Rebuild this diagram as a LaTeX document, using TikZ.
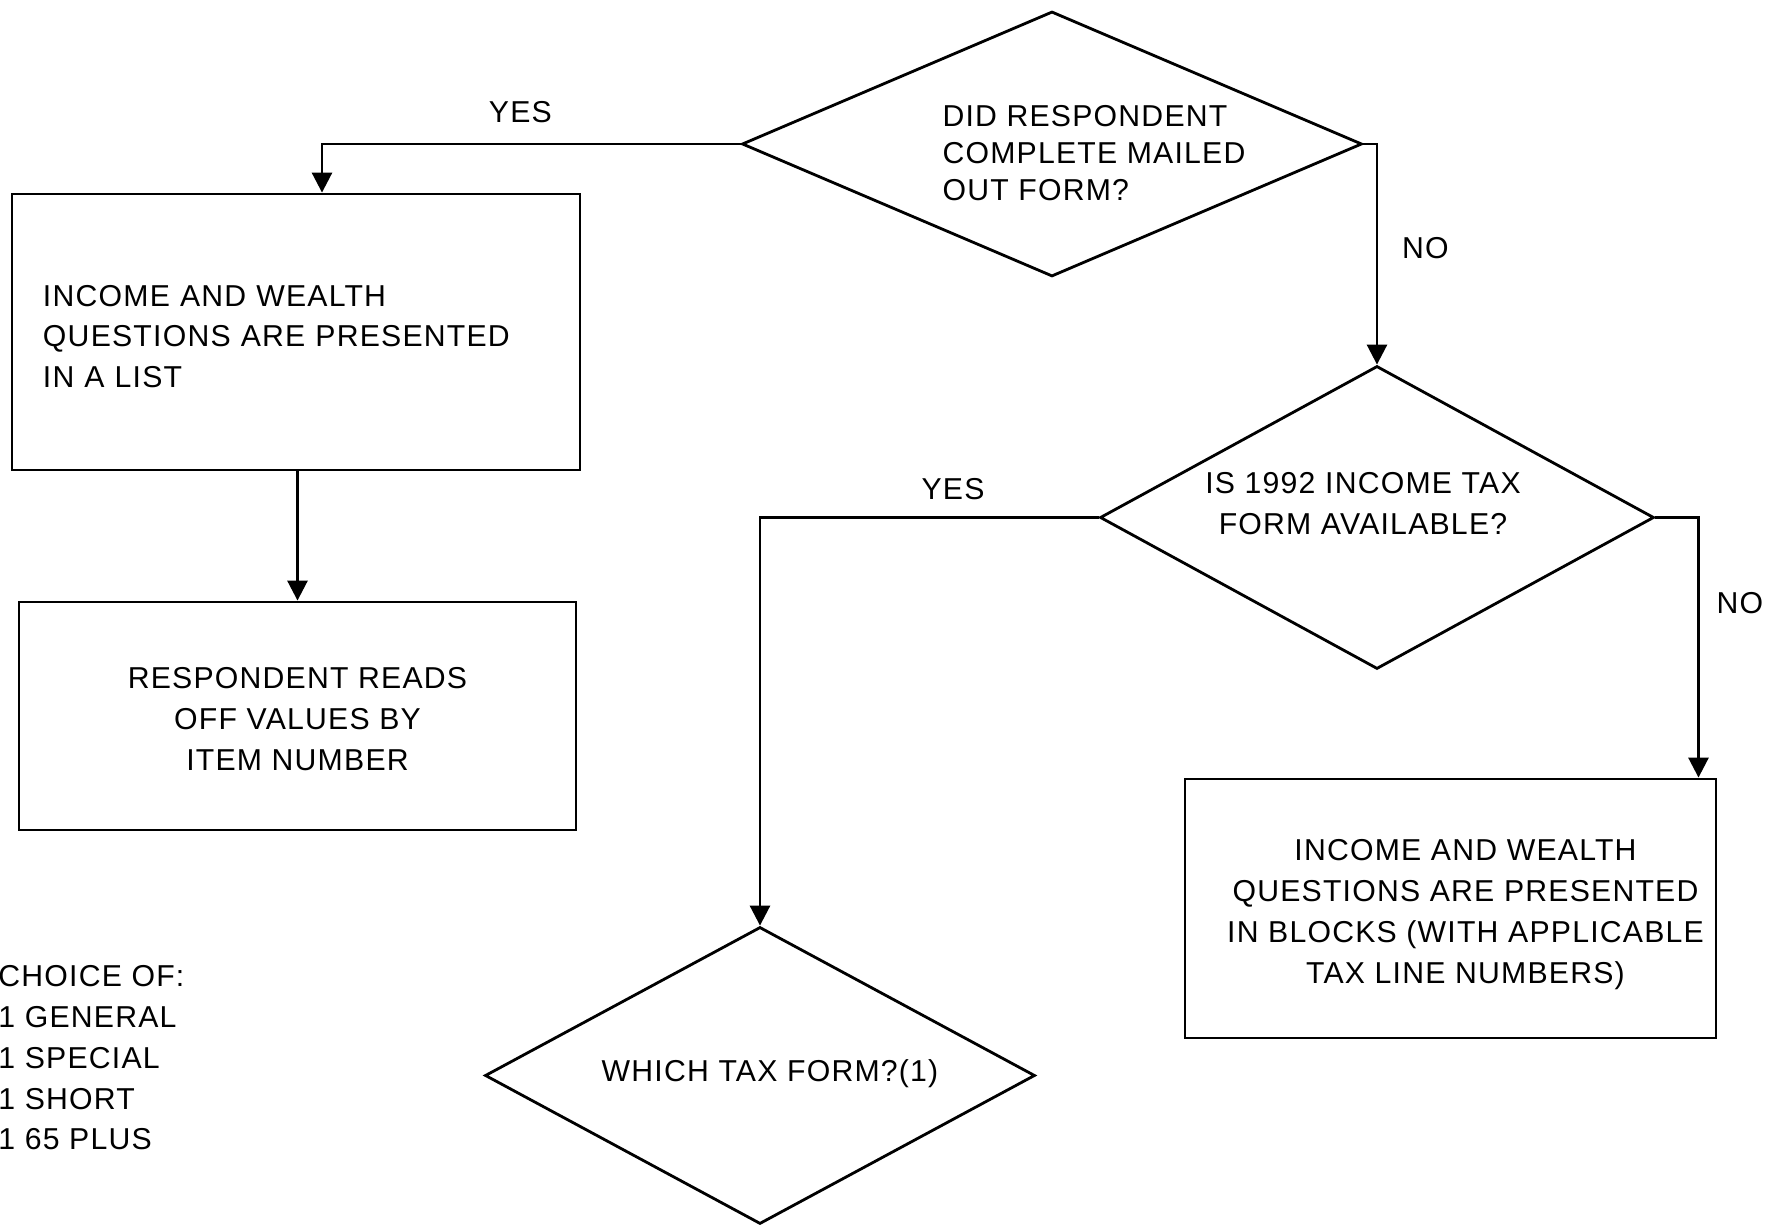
\documentclass[tikz,border=0pt]{standalone}
\usepackage{fontspec}
\setmainfont{Liberation Sans}[LetterSpace=4]
\usetikzlibrary{arrows.meta, positioning, shapes.geometric}

\begin{document}
\begin{tikzpicture}[line width=0.8pt, font=\fontsize{8.6}{11.6}\selectfont,
    box/.style={draw, rectangle, inner sep=0pt},
    decision/.style={draw, diamond, inner sep=0pt},
    flow/.style={-{Triangle[length=2mm, width=2mm]}}]
        \useasboundingbox (0,0) rectangle (17.77,-12.25);
        % Nodes
        \node[decision, minimum width=6.2cm, minimum height=2.65cm,
            label={[align=left, font=\fontsize{8.6}{10.5}\selectfont, xshift=4.2mm, yshift=-0.9mm]center:DID RESPONDENT\\COMPLETE MAILED\\OUT FORM?}] (mailed) at (10.52,-1.44) {};
        \node[box, minimum width=5.68cm, minimum height=2.76cm,
            label={[text width=5.06cm, align=left, yshift=-0.45mm]center:INCOME AND WEALTH\\QUESTIONS ARE PRESENTED\\IN A LIST}] (list) at (2.96,-3.32) {};
        \node[box, minimum width=5.57cm, minimum height=2.28cm,
            label={[align=center, yshift=-0.3mm]center:RESPONDENT READS\\OFF VALUES BY\\ITEM NUMBER}] (reads) at (2.975,-7.16) {};
        \node[decision, minimum width=5.54cm, minimum height=3.03cm,
            label={[align=center, xshift=-1.4mm, yshift=1.4mm]center:IS 1992 INCOME TAX\\FORM AVAILABLE?}] (taxform) at (13.77,-5.175) {};
        \node[box, minimum width=5.31cm, minimum height=2.59cm,
            label={[align=center, xshift=1.5mm, yshift=-0.6mm]center:INCOME AND WEALTH\\QUESTIONS ARE PRESENTED\\IN BLOCKS (WITH APPLICABLE\\TAX LINE NUMBERS)}] (blocks) at (14.505,-9.085) {};
        \node[decision, minimum width=5.5cm, minimum height=2.97cm,
            label={[xshift=1mm, yshift=0.2mm]center:WHICH TAX FORM?(1)}] (which) at (7.60,-10.755) {};
        \node[inner sep=0pt, anchor=west, align=left] (choice) at (-0.03,-10.58) {CHOICE OF:\\1 GENERAL\\1 SPECIAL\\1 SHORT\\1 65 PLUS};

        % Arrows
        \draw[flow] (mailed.west) -| node[pos=0.263, above=0.85mm] {YES} ([xshift=2.6mm]list.north);
        \draw[flow] (list.south -| reads.north) -- (reads.north);
        \draw[flow] (mailed.east) -| node[pos=0.735, right=1.2mm] {NO} (taxform.north);
        \draw[flow] (taxform.west) -| node[pos=0.215, above=0.45mm] {YES} (which.north);
        \draw[flow] (taxform.east) -| node[pos=0.665, right=0.5mm] {NO} ([xshift=2.48cm]blocks.north);
    \end{tikzpicture}
\end{document}
